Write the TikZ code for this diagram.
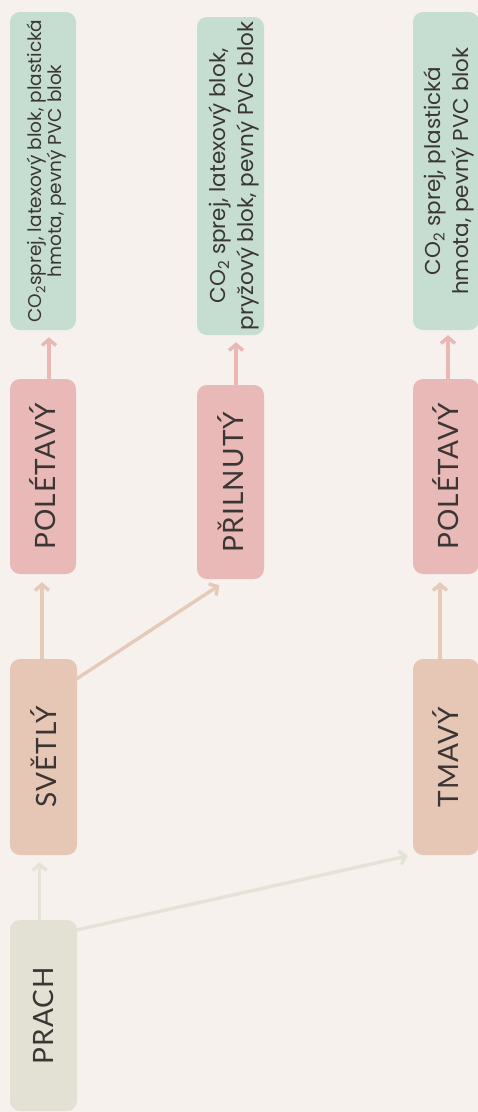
\documentclass[tikz,border=0pt]{standalone}
\usepackage{fontspec}
\setmainfont{Poppins}
\newfontfamily\capsfont[LetterSpace=4]{Lato}
\usetikzlibrary{arrows.meta,calc}
\definecolor{bg}{HTML}{F6F1ED}
\definecolor{ink}{HTML}{3B3634}
\definecolor{sage}{HTML}{C6DDD1}
\definecolor{rose}{HTML}{E8B9B7}
\definecolor{sand}{HTML}{E6C6B4}
\definecolor{dust}{HTML}{E3E0D4}
\definecolor{rosearrow}{HTML}{E9B8B5}
\definecolor{sandarrow}{HTML}{E5CAB9}
\definecolor{dustarrow}{HTML}{E5E2D8}
\begin{document}
\begin{tikzpicture}[x=1pt,y=-1pt,
  box/.style={rounded corners=10pt, rotate=90, inner sep=0pt, align=center, text=ink},
  capsbox/.style={box, font=\capsfont\fontsize{28}{32}\selectfont},
  infobox/.style={box, fill=sage, minimum width=318pt, minimum height=66pt},
  infotext/.style={rotate=90, inner sep=0pt, align=center, text=ink,
                   font=\fontsize{21.5}{28}\selectfont},
  link/.style={line width=3.4pt, -{Straight Barb[length=6pt,width=14pt,line width=3.4pt]}}
]
\clip (0,0) rectangle (478,1112);
\fill[bg] (0,0) rectangle (478,1112);

% source
\node[capsbox, fill=dust, minimum width=191pt, minimum height=67pt] (prach) at (43.5,1015.5) {PRACH};

% second level
\node[capsbox, fill=sand, minimum width=196pt, minimum height=67pt] (svetly) at (43.5,757) {SVĚTLÝ};
\node[capsbox, fill=sand, minimum width=196pt, minimum height=66pt] (tmavy) at (446,757) {TMAVÝ};

% third level
\node[capsbox, fill=rose, minimum width=195pt, minimum height=66pt] (polet1) at (43,476.5) {POLÉTAVÝ};
\node[capsbox, fill=rose, minimum width=194pt, minimum height=67pt] (prilnuty) at (230.5,482) {PŘILNUTÝ};
\node[capsbox, fill=rose, minimum width=195pt, minimum height=66pt] (polet2) at (446,476.5) {POLÉTAVÝ};

% cleaning materials: boxes, then their two-line texts
\node[infobox] (mat1) at (43,171) {};
\node[infobox, minimum height=67pt] (mat2) at (230.5,176) {};
\node[infobox] (mat3) at (446,171) {};
\node[infotext, font=\fontsize{18.5}{18.5}\selectfont] (txt1) at ($(mat1.center)+(4,0)$) {CO\textsubscript{2}sprej, latexový blok, plastická\\hmota, pevný PVC blok};
\node[infotext] (txt2) at ($(mat2.center)+(3,0)$) {CO\textsubscript{2} sprej, latexový blok,\\pryžový blok, pevný PVC blok};
\node[infotext] (txt3) at ($(mat3.center)+(3,0)$) {CO\textsubscript{2} sprej, plastická\\hmota, pevný PVC blok};

% connectors from the source
\draw[link, draw=dustarrow, shorten >=7pt] ([xshift=-4pt]prach.east) -- ([xshift=-4pt]svetly.west);
\draw[link, draw=dustarrow, shorten >=3pt] ($(prach.south east)+(0,10)$) -- ($(tmavy.north west)+(-2,0)$);

% connectors from the second level
\draw[link, draw=sandarrow, shorten >=8pt] ([xshift=-1.5pt]svetly.east) -- ([xshift=-1pt]polet1.west);
\draw[link, draw=sandarrow, shorten >=11pt] ($(svetly.south east)+(-2,21)$) -- ([xshift=-2pt]prilnuty.west);
\draw[link, draw=sandarrow, shorten >=8pt] ([xshift=-6pt]tmavy.east) -- ([xshift=-6pt]polet2.west);

% connectors to the materials
\draw[link, draw=rosearrow, shorten >=7pt] ([xshift=6pt]polet1.east) -- ([xshift=6pt]mat1.west);
\draw[link, draw=rosearrow, shorten >=7pt] ([xshift=5.5pt]prilnuty.east) -- ([xshift=5.5pt]mat2.west);
\draw[link, draw=rosearrow, shorten >=5pt] ([xshift=2pt]polet2.east) -- ([xshift=2pt]mat3.west);
\end{tikzpicture}
\end{document}
